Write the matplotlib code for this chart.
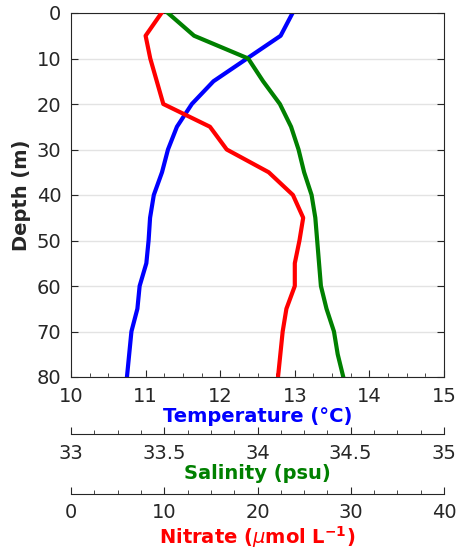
import matplotlib
matplotlib.use('Agg')
import matplotlib.pyplot as plt
import numpy as np
from matplotlib.ticker import MultipleLocator

# 깊이별 프로파일 데이터
depth = [0, 5, 10, 15, 20, 25, 30, 35, 40, 45, 50, 55, 60, 65, 70, 75, 80]
temperature = [12.97, 12.81, 12.36, 11.91, 11.62, 11.42, 11.30, 11.22, 11.11,
               11.06, 11.04, 11.01, 10.92, 10.89, 10.81, 10.78, 10.75]
salinity = [33.52, 33.66, 33.95, 34.03, 34.12, 34.18, 34.22, 34.25, 34.29,
            34.31, 34.32, 34.33, 34.34, 34.37, 34.41, 34.43, 34.46]
nitrate = [9.7, 8.0, 8.5, 9.2, 9.9, 14.9, 16.7, 21.2, 23.8,
           24.9, 24.5, 24.0, 24.0, 23.1, 22.7, 22.45, 22.2]

dark = '#262626'
plt.rcParams['font.family'] = 'DejaVu Sans'
plt.rcParams['font.size'] = 14

fig = plt.figure(figsize=(4.58, 5.56), dpi=100)
fig.set_facecolor('white')
ax = fig.add_axes([71/458, 1-377/556, 373/458, 364/556])

# 온도 (기본 축)
ax.plot(temperature, depth, color='blue', lw=3)
ax.set_xlim(10, 15)
ax.set_ylim(80, 0)
ax.set_yticks(range(0, 81, 10))
ax.set_xticks(range(10, 16))
ax.xaxis.set_minor_locator(MultipleLocator(0.25))
ax.grid(axis='y', color='#e3e3e3', lw=1)
ax.set_axisbelow(True)
ax.tick_params(which='both', direction='in', top=True, right=True, colors=dark, labelcolor=dark)
ax.tick_params(which='major', length=5, pad=7)
ax.tick_params(which='minor', length=3)
for s in ax.spines.values():
    s.set_color(dark)
ax.set_ylabel('Depth (m)', fontweight='bold', color=dark, labelpad=4)
ax.set_xlabel('Temperature (°C)', fontweight='bold', color='blue', labelpad=1)


def extra_axis(offset):
    a = ax.twiny()
    a.patch.set_visible(False)
    for k in ['top', 'left', 'right']:
        a.spines[k].set_visible(False)
    a.spines['bottom'].set_position(('outward', offset))
    a.spines['bottom'].set_color(dark)
    a.xaxis.set_ticks_position('bottom')
    a.xaxis.set_label_position('bottom')
    a.tick_params(which='both', direction='in', colors=dark, labelcolor=dark)
    a.tick_params(which='major', length=5, pad=7)
    a.tick_params(which='minor', length=3)
    return a


# 염분
ax2 = extra_axis(41)
ax2.plot(salinity, depth, color='green', lw=3)
ax2.set_xlim(33, 35)
ax2.set_xticks([33, 33.5, 34, 34.5, 35])
ax2.set_xticklabels(['33', '33.5', '34', '34.5', '35'])
ax2.xaxis.set_minor_locator(MultipleLocator(0.125))
ax2.set_xlabel('Salinity (psu)', fontweight='bold', color='green', labelpad=1)

# 질산염
ax3 = extra_axis(84)
ax3.plot(nitrate, depth, color='red', lw=3)
ax3.set_xlim(0, 40)
ax3.set_xticks(range(0, 41, 10))
ax3.xaxis.set_minor_locator(MultipleLocator(2.5))
ax3.set_xlabel(r'Nitrate ($\mu$mol L$^{\mathbf{-1}}$)', fontweight='bold', color='red', labelpad=1)

ax.set_ylim(80, 0)
fig.savefig('out.png', dpi=100)
